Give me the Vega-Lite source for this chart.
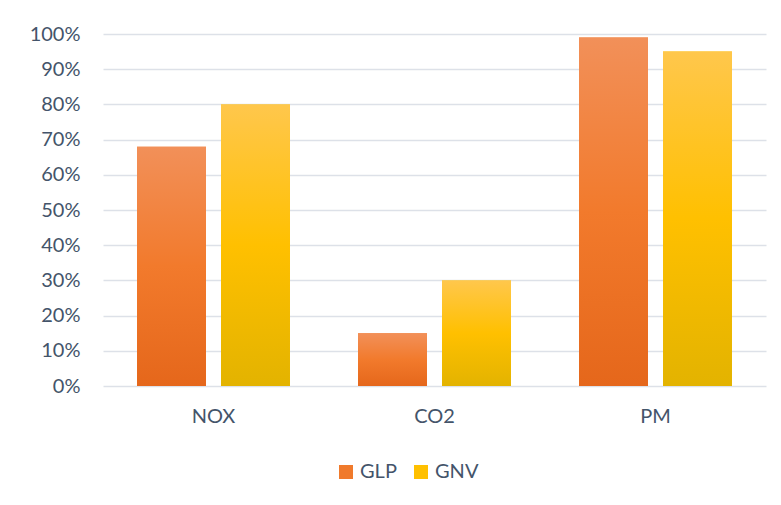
{
  "$schema": "https://vega.github.io/schema/vega-lite/v6.json",
  "width": 663,
  "height": 352,
  "autosize": {"type": "none"},
  "padding": {"left": 103, "top": 34, "right": 15, "bottom": 119},
  "background": "white",
  "data": {
    "values": [
      {"pollutant": "NOX", "fuel": "GLP", "value": 0.68},
      {"pollutant": "NOX", "fuel": "GNV", "value": 0.80},
      {"pollutant": "CO2", "fuel": "GLP", "value": 0.15},
      {"pollutant": "CO2", "fuel": "GNV", "value": 0.30},
      {"pollutant": "PM", "fuel": "GLP", "value": 0.99},
      {"pollutant": "PM", "fuel": "GNV", "value": 0.95}
    ]
  },
  "encoding": {
    "x": {
      "field": "pollutant",
      "type": "nominal",
      "sort": ["NOX", "CO2", "PM"],
      "scale": {"paddingInner": 0.308, "paddingOuter": 0.154},
      "axis": {
        "title": null,
        "labelAngle": 0,
        "domain": false,
        "ticks": false,
        "labelPadding": 20,
        "labelFont": "Lato",
        "labelFontSize": 20,
        "labelColor": "#44546A"
      }
    },
    "xOffset": {
      "field": "fuel",
      "type": "nominal",
      "sort": ["GLP", "GNV"],
      "scale": {"domain": ["GLP", "GNV"], "paddingInner": 0.179, "paddingOuter": 0}
    },
    "y": {
      "field": "value",
      "type": "quantitative",
      "scale": {"domain": [0, 1]},
      "axis": {
        "title": null,
        "format": ".0%",
        "values": [0, 0.1, 0.2, 0.3, 0.4, 0.5, 0.6, 0.7, 0.8, 0.9, 1.0],
        "domain": false,
        "ticks": false,
        "labelPadding": 23,
        "labelFont": "Lato",
        "labelFontSize": 20,
        "labelColor": "#44546A",
        "gridColor": "#DDE1E8",
        "gridWidth": 1.5
      }
    }
  },
  "layer": [
    {
      "mark": {"type": "bar"},
      "encoding": {
        "color": {
          "field": "fuel",
          "type": "nominal",
          "sort": ["GLP", "GNV"],
          "scale": {"domain": ["GLP", "GNV"], "range": ["#F07A2C", "#FFC000"]},
          "legend": {
            "title": null,
            "orient": "none",
            "direction": "horizontal",
            "legendX": 233,
            "legendY": 428,
            "padding": 0,
            "symbolType": "square",
            "symbolSize": 196,
            "symbolStrokeWidth": 0,
            "symbolOpacity": 1,
            "labelFont": "Lato",
            "labelFontSize": 20,
            "labelColor": "#44546A",
            "labelOffset": 4,
            "columnPadding": 14,
            "encode": {
              "symbols": {
                "update": {
                  "fill": [
                    {"test": "datum.value === 'GLP'", "value": {"gradient": "linear", "x1": 0, "y1": 0, "x2": 0, "y2": 1,
                      "stops": [{"offset": 0, "color": "#F29059"}, {"offset": 0.5, "color": "#F27A2C"}, {"offset": 1, "color": "#E5671B"}]}},
                    {"value": {"gradient": "linear", "x1": 0, "y1": 0, "x2": 0, "y2": 1,
                      "stops": [{"offset": 0, "color": "#FFC74C"}, {"offset": 0.5, "color": "#FFC000"}, {"offset": 1, "color": "#E3B300"}]}}
                  ]
                }
              }
            }
          }
        }
      }
    },
    {
      "transform": [{"filter": "datum.fuel === 'GLP'"}],
      "mark": {
        "type": "bar",
        "color": {"gradient": "linear", "x1": 0, "y1": 0, "x2": 0, "y2": 1,
          "stops": [{"offset": 0, "color": "#F29059"}, {"offset": 0.5, "color": "#F27A2C"}, {"offset": 1, "color": "#E5671B"}]}
      }
    },
    {
      "transform": [{"filter": "datum.fuel === 'GNV'"}],
      "mark": {
        "type": "bar",
        "color": {"gradient": "linear", "x1": 0, "y1": 0, "x2": 0, "y2": 1,
          "stops": [{"offset": 0, "color": "#FFC74C"}, {"offset": 0.5, "color": "#FFC000"}, {"offset": 1, "color": "#E3B300"}]}
      }
    }
  ],
  "config": {
    "view": {"stroke": null}
  }
}
